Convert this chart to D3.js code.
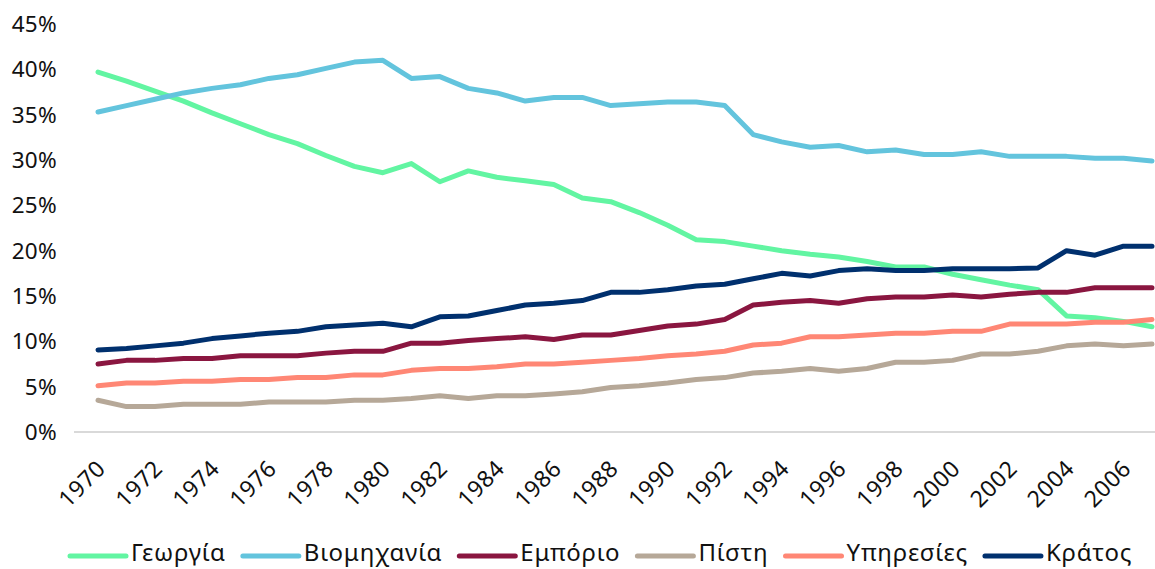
<!DOCTYPE html>
<html>
<head>
<meta charset="utf-8">
<script src="https://cdn.jsdelivr.net/npm/d3@7"></script>
<style>
  body { margin: 0; background: #fff; }
  svg text { font-family: "Noto Sans", sans-serif; fill: #111; }
</style>
</head>
<body>
<div id="chart"></div>
<script>
const width = 1155, height = 569;

// years on the category axis
const years = d3.range(1970, 2008);
const yTicks = [0, 5, 10, 15, 20, 25, 30, 35, 40, 45];

// series values (% share)
const georgia = [39.7, 38.7, 37.6, 36.5, 35.2, 34.0, 32.8, 31.8, 30.5, 29.3, 28.6,
  29.6, 27.6, 28.8, 28.1, 27.7, 27.3, 25.8, 25.4, 24.2, 22.8, 21.2, 21.0, 20.5, 20.0,
  19.6, 19.3, 18.8, 18.2, 18.2, 17.4, 16.8, 16.2, 15.7, 12.8, 12.6, 12.2, 11.6];
const industry = [35.3, 36.0, 36.7, 37.4, 37.9, 38.3, 39.0, 39.4, 40.1, 40.8, 41.0,
  39.0, 39.2, 37.9, 37.4, 36.5, 36.9, 36.9, 36.0, 36.2, 36.4, 36.4, 36.0, 32.8, 32.0,
  31.4, 31.6, 30.9, 31.1, 30.6, 30.6, 30.9, 30.4, 30.4, 30.4, 30.2, 30.2, 29.9];
const trade = [7.5, 7.9, 7.9, 8.1, 8.1, 8.4, 8.4, 8.4, 8.7, 8.9, 8.9,
  9.8, 9.8, 10.1, 10.3, 10.5, 10.2, 10.7, 10.7, 11.2, 11.7, 11.9, 12.4, 14.0, 14.3,
  14.5, 14.2, 14.7, 14.9, 14.9, 15.1, 14.9, 15.2, 15.4, 15.4, 15.9, 15.9, 15.9];
const credit = [3.5, 2.8, 2.8, 3.05, 3.05, 3.05, 3.3, 3.3, 3.3, 3.5, 3.5,
  3.7, 4.0, 3.7, 4.0, 4.0, 4.2, 4.45, 4.9, 5.1, 5.4, 5.8, 6.0, 6.5, 6.7,
  7.0, 6.7, 7.0, 7.7, 7.7, 7.9, 8.6, 8.6, 8.9, 9.5, 9.7, 9.5, 9.7];
const services = [5.1, 5.4, 5.4, 5.6, 5.6, 5.8, 5.8, 6.0, 6.0, 6.3, 6.3,
  6.8, 7.0, 7.0, 7.2, 7.5, 7.5, 7.7, 7.9, 8.1, 8.4, 8.6, 8.9, 9.6, 9.8,
  10.5, 10.5, 10.7, 10.9, 10.9, 11.1, 11.1, 11.9, 11.9, 11.9, 12.1, 12.1, 12.4];
const state = [9.05, 9.2, 9.5, 9.8, 10.3, 10.6, 10.9, 11.1, 11.6, 11.8, 12.0,
  11.6, 12.7, 12.8, 13.4, 14.0, 14.2, 14.5, 15.4, 15.4, 15.7, 16.1, 16.3, 16.9, 17.5,
  17.2, 17.8, 18.0, 17.8, 17.8, 18.0, 18.0, 18.0, 18.1, 20.0, 19.5, 20.5, 20.5];

const seriesNames = ["Γεωργία", "Βιομηχανία", "Εμπόριο", "Πίστη", "Υπηρεσίες", "Κράτος"];
const seriesValues = [georgia, industry, trade, credit, services, state];
const colors = ["#62F5A2", "#63C4DD", "#8A1640", "#B6A898", "#FF8775", "#00306E"];

const svg = d3.select("#chart")
  .append("svg")
  .attr("width", width)
  .attr("height", height);

// scales: category points from 1970 to 2007
const xScale = d3.scalePoint()
  .domain(years)
  .range([98, 1152]);

const yScale = d3.scaleLinear()
  .domain([0, 45])
  .range([432, 24]);

// y-axis labels (no axis line)
svg.append("g")
  .selectAll("text")
  .data(yTicks)
  .join("text")
  .attr("x", 57)
  .attr("y", d => yScale(d))
  .attr("dy", "0.35em")
  .attr("text-anchor", "end")
  .style("font-size", "22.5px")
  .style("letter-spacing", "0.3px")
  .text(d => d + "%");

// baseline at 0%
svg.append("line")
  .attr("x1", 74)
  .attr("x2", width)
  .attr("y1", yScale(0))
  .attr("y2", yScale(0))
  .attr("stroke", "#d9d9d9")
  .attr("stroke-width", 2);

// x-axis labels, every other year, rotated
svg.append("g")
  .selectAll("text")
  .data(years.filter(y => y % 2 === 0))
  .join("text")
  .attr("text-anchor", "end")
  .attr("transform", d => `translate(${xScale(d) + 9}, ${470}) rotate(-45)`)
  .style("font-size", "23px")
  .style("letter-spacing", "0.5px")
  .text(d => d);

// lines
const line = d3.line()
  .x((d, i) => xScale(years[i]))
  .y(d => yScale(d));

svg.append("g")
  .selectAll("path")
  .data(seriesValues)
  .join("path")
  .attr("d", d => line(d))
  .attr("fill", "none")
  .attr("stroke", (d, i) => colors[i])
  .attr("stroke-width", 5)
  .attr("stroke-linejoin", "round")
  .attr("stroke-linecap", "round");

// legend along the bottom
const legend = svg.append("g");
const swatch = 56, gap = 5, spacing = 17;
const items = legend.selectAll("g")
  .data(seriesNames)
  .join("g");

items.append("line")
  .attr("x1", 0)
  .attr("x2", swatch)
  .attr("y1", 3)
  .attr("y2", 3)
  .attr("stroke", (d, i) => colors[i])
  .attr("stroke-width", 5)
  .attr("stroke-linecap", "round");

items.append("text")
  .attr("x", swatch + gap)
  .attr("dy", "0.35em")
  .style("font-size", "24px")
  .style("letter-spacing", "0.8px")
  .text(d => d);

let offset = 0;
items.each(function() {
  const w = swatch + gap + d3.select(this).select("text").node().getComputedTextLength();
  d3.select(this).attr("transform", `translate(${offset}, 0)`);
  offset += w + spacing;
});
legend.attr("transform", "translate(70, 553)");
</script>
</body>
</html>
